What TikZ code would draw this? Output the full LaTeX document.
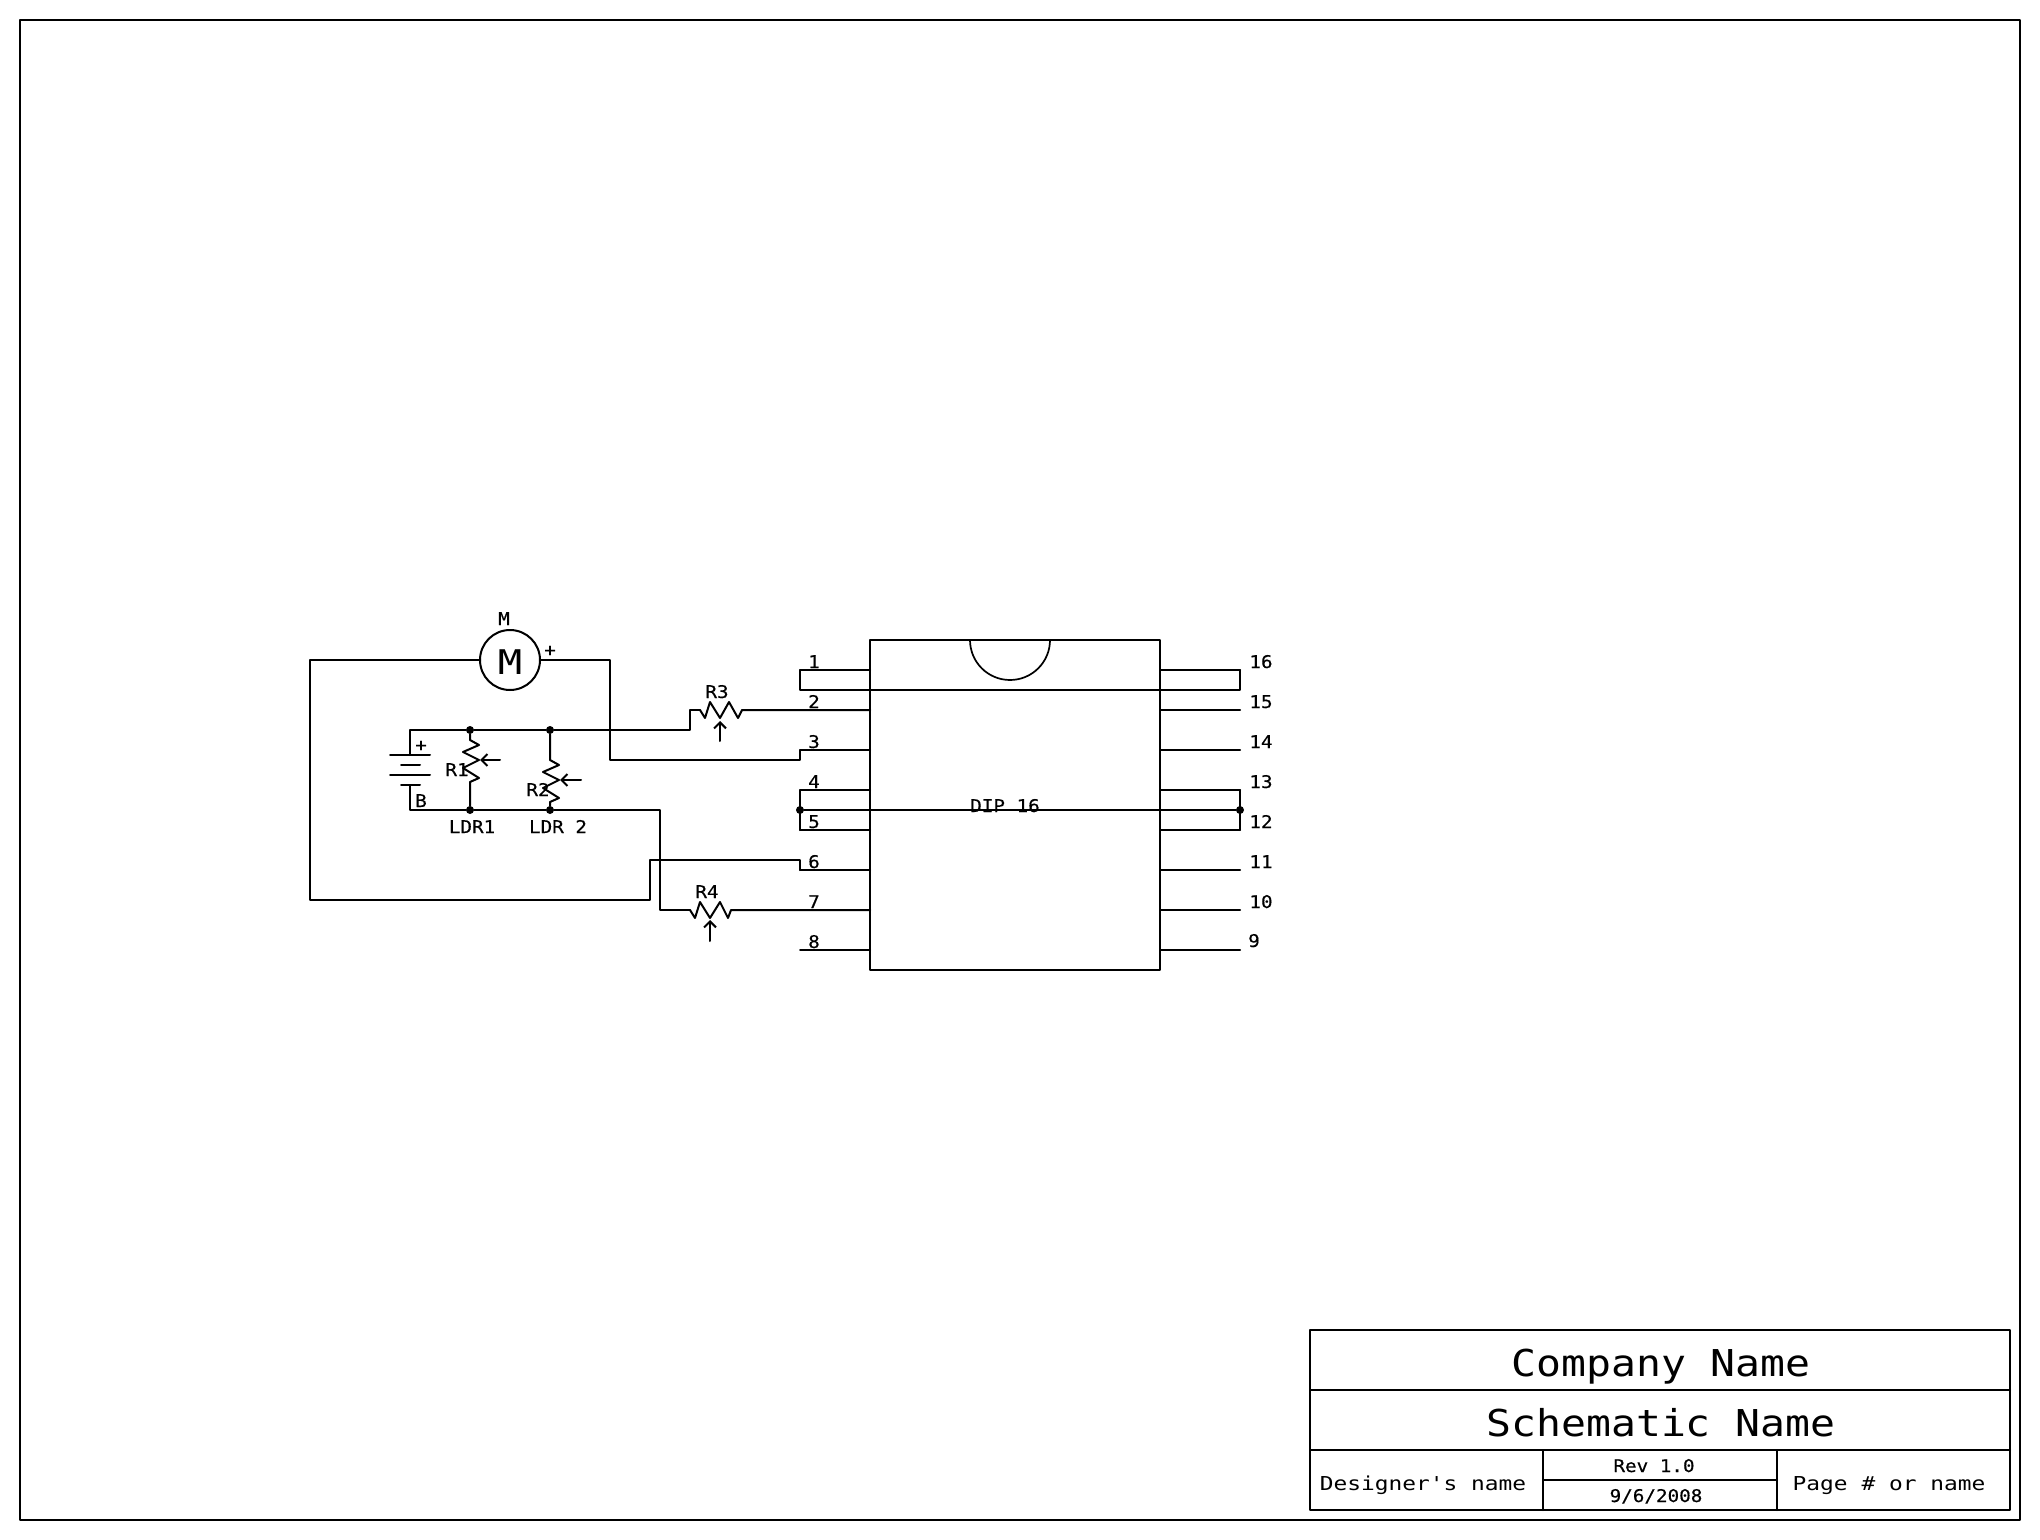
\documentclass[tikz,border=0pt]{standalone}
\usepackage{fontspec}
\usetikzlibrary{arrows.meta}
\newfontfamily\schS[FakeStretch=1.1,FakeBold=0.4]{DejaVu Sans Mono}
\newfontfamily\schM[FakeStretch=1.19]{DejaVu Sans Mono}
\newfontfamily\schL[FakeStretch=1.12]{DejaVu Sans Mono}
\tikzset{
  wire/.style={line width=1pt,line cap=round,line join=round,draw=black},
  thin wire/.style={wire,line width=.85pt},
  txtS/.style={anchor=base,inner sep=0pt,font=\schS\fontsize{8.75pt}{10pt}\selectfont},
  txtM/.style={anchor=base,inner sep=0pt,font=\schM\fontsize{9.6pt}{11pt}\selectfont},
  txtL/.style={anchor=base,inner sep=0pt,font=\schL\fontsize{18.5pt}{20pt}\selectfont},
  txtMotor/.style={anchor=base,inner sep=0pt,font=\schM\fontsize{17pt}{18pt}\selectfont},
  dotn/.style={circle,fill=black,draw=none,minimum size=4pt,inner sep=0pt},
  wiper/.style={wire,-{Straight Barb[length=3pt,width=6pt]}}
}
\begin{document}
\begin{tikzpicture}[x=.5pt,y=-.5pt]
\useasboundingbox (0,0) rectangle (2040,1540);
\fill[white] (0,0) rectangle (2040,1540);
% frame and title block
\draw[wire] (20,20) rectangle (2020,1520);
\draw[wire] (1310,1330) rectangle (2010,1510);
\draw[wire] (1310,1390) -- (2010,1390);
\draw[wire] (1310,1450) -- (2010,1450);
\draw[wire] (1543,1450) -- (1543,1510);
\draw[wire] (1777,1450) -- (1777,1510);
\draw[wire] (1543,1480) -- (1777,1480);
\node[txtL] (tCompany) at (1661,1376) {Company Name};
\node[txtL] (tSchem) at (1661,1436) {Schematic Name};
\node[txtM] (tDesigner) at (1423,1490) {Designer's name};
\node[txtM] (tPage) at (1889,1490) {Page \# or name};
\node[txtS] (tRev) at (1654,1472) {Rev 1.0};
\node[txtS] (tDate) at (1656,1502) {9/6/2008};
% chip
\node[wire,draw,rectangle,minimum width=145pt,minimum height=165pt,inner sep=0pt,outer sep=0pt] (chip) at (1015,805) {};
\draw[thin wire] (1050,640) arc[start angle=0,end angle=-180,radius=20pt];
\foreach \n/\yy in {1/670,2/710,3/750,4/790,5/830,6/870,7/910,8/950}{
  \coordinate (pL\n) at (800,\yy);
  \draw[wire] (pL\n) -- (pL\n -| chip.west);
}
\foreach \n/\yy in {16/670,15/710,14/750,13/790,12/830,11/870,10/910,9/950}{
  \coordinate (pR\n) at (1240,\yy);
  \draw[wire] (pR\n) -- (pR\n -| chip.east);
}
\foreach \n/\yy in {1/668,2/708,3/748,4/788,5/828,6/868,7/908,8/948}{
  \node[txtS] (lL\n) at (814,\yy) {\n};
}
\foreach \n/\yy in {16/668,15/708,14/748,13/788,12/828,11/868,10/908}{
  \node[txtS] (lR\n) at (1261,\yy) {\n};
}
\node[txtS] (lR9) at (1254,947) {9};
\node[txtS] (tDip) at (1005,812) {DIP 16};
% bridges on the pins
\draw[wire] (pL1) -- (pL2 |- 0,690) -- (1240,690) -- (pR16);
\draw[wire] (pL4) -- (pL5);
\draw[wire] (pR13) -- (pR12);
\node[dotn] (dL) at (800,810) {};
\node[dotn] (dR) at (1240,810) {};
\draw[wire] (dL) -- (dR);
% motor
\node[wire,draw,circle,minimum size=30pt,inner sep=0pt,outer sep=0pt] (motor) at (510,660) {};
\node[txtMotor] (motorM) at (510,674) {M};
\node[txtS] (tM) at (504,625) {M};
\node[txtS] (tPlusM) at (550,656) {+};
\coordinate (cA) at (310,660);
\coordinate (cB) at (310,900);
\coordinate (cC) at (650,900);
\coordinate (cD) at (650,860);
\coordinate (cE) at (800,860);
\draw[wire] (motor.west) -- (cA) -- (cB) -- (cC) -- (cD) -- (cE) -- (pL6);
\coordinate (cF) at (610,660);
\coordinate (cG) at (610,760);
\coordinate (cH) at (800,760);
\draw[wire] (motor.east) -- (cF) -- (cG) -- (cH) -- (pL3);
% rails
\node[dotn] (jT1) at (470,730) {};
\node[dotn] (jT2) at (550,730) {};
\node[dotn] (jB1) at (470,810) {};
\node[dotn] (jB2) at (550,810) {};
\coordinate (batT) at (410,755);
\coordinate (batB) at (410,785);
\coordinate (railTL) at (410,730);
\coordinate (railBL) at (410,810);
\coordinate (r3a) at (690,730);
\coordinate (r3b) at (690,710);
\coordinate (r3c) at (700,710);
\coordinate (r3d) at (750,710);
\draw[wire] (batT) -- (railTL) -- (jT1) -- (jT2) -- (r3a) -- (r3b) -- (r3c);
\draw[wire] (batB) -- (railBL) -- (jB1) -- (jB2) -- (660,810) -- (660,910) -- (690,910);
% battery
\draw[wire] (390,755) -- (430,755);
\draw[wire] (401,765) -- (420,765);
\draw[wire] (390,775) -- (430,775);
\draw[wire] (401,785) -- (420,785);
\node[txtS] (tPlusB) at (421,751) {+};
\node[txtS] (tB) at (421,807) {B};
% R3
\draw[wire] (r3c) -- (705,718) -- (710,702) -- (720,718) -- (729,702) -- (738,718) -- (742,710) -- (r3d) -- (pL2 -| chip.west);
\draw[wiper] (720,741) -- (720,721);
\node[txtS] (tR3) at (717,698) {R3};
% R4
\draw[wire] (690,910) -- (695,918) -- (700,902) -- (710,918) -- (720,902) -- (728,918) -- (731,910) -- (741,910) -- (pL7 -| chip.west);
\draw[wiper] (710,941) -- (710,920);
\node[txtS] (tR4) at (707,898) {R4};
% R1
\draw[wire] (jT1) -- (470,740) -- (479,745) -- (463,752) -- (479,760) -- (463,768) -- (479,778) -- (470,782) -- (jB1);
\draw[wiper] (500,760) -- (480,760);
\node[txtS] (tR1) at (457,776) {R1};
\node[txtS] (tLdr1) at (472,833) {LDR1};
% R2
\draw[wire] (jT2) -- (550,760) -- (559,765) -- (543,772) -- (559,780) -- (543,788) -- (559,798) -- (550,802) -- (jB2);
\draw[wiper] (581,780) -- (560,780);
\node[txtS] (tR2) at (538,796) {R2};
\node[txtS] (tLdr2) at (558,833) {LDR 2};
\end{tikzpicture}
\end{document}
